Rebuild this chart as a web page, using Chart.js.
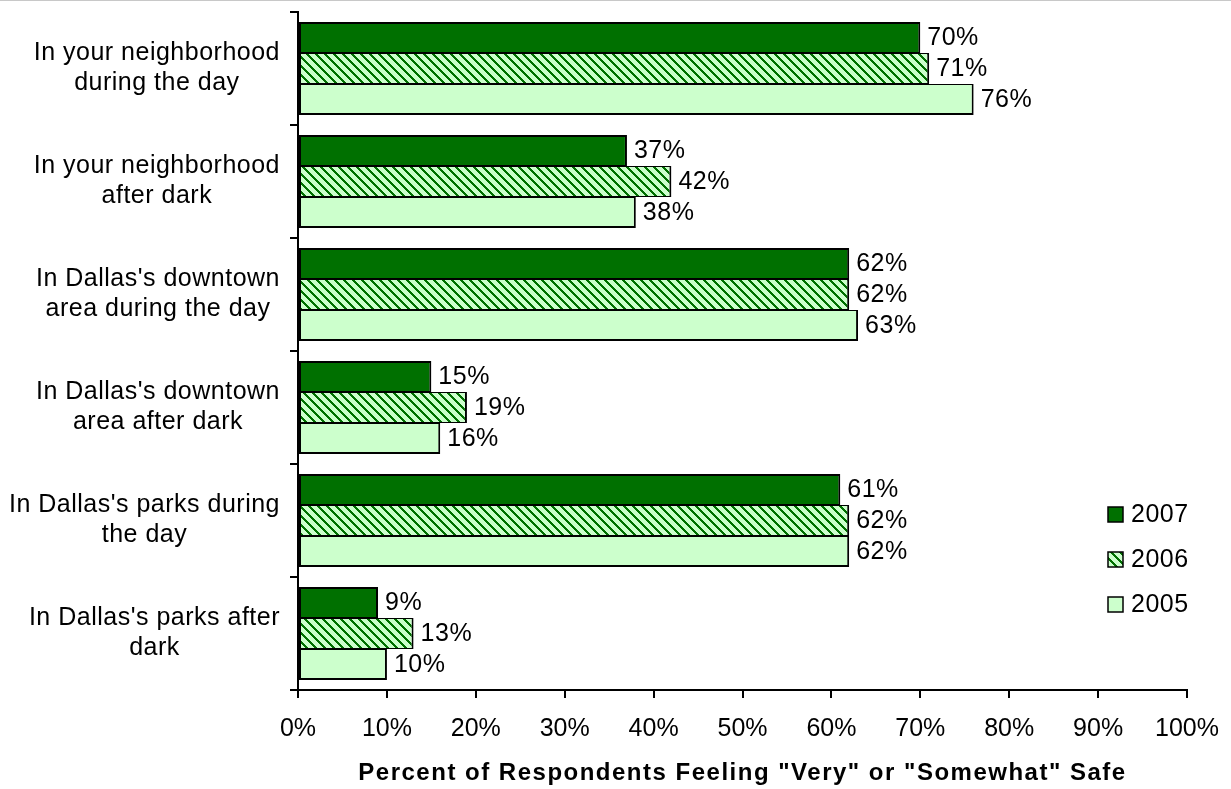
<!DOCTYPE html>
<html>
<head>
<meta charset="utf-8">
<title>Feelings of Safety in Dallas</title>
<script src="https://cdn.jsdelivr.net/npm/chart.js@4.4.1/dist/chart.umd.min.js"></script>
<style>
  html, body { margin: 0; padding: 0; background: #ffffff; }
  #wrap { width: 1231px; height: 789px; position: relative; }
  canvas { display: block; }
</style>
</head>
<body>
<div id="wrap"><canvas id="chart" width="1231" height="789"></canvas></div>
<script>
// Survey locations (each label split onto two lines)
const categories = [
  ["In your neighborhood", "during the day"],
  ["In your neighborhood", "after dark"],
  ["In Dallas's downtown", "area during the day"],
  ["In Dallas's downtown", "area after dark"],
  ["In Dallas's parks during", "the day"],
  ["In Dallas's parks after", "dark"]
];

// Percent feeling "very" or "somewhat" safe, by survey year
const years = ["2007", "2006", "2005"];
const values2007 = [70, 37, 62, 15, 61, 9];
const values2006 = [71, 42, 62, 19, 62, 13];
const values2005 = [76, 38, 63, 16, 62, 10];

// Axis ticks
const xTicks = [0, 10, 20, 30, 40, 50, 60, 70, 80, 90, 100];
const xTitle = 'Percent of Respondents Feeling "Very" or "Somewhat" Safe';

const FONT = '"Liberation Sans", Arial, Helvetica, sans-serif';
const LABEL_FONT = '25px ' + FONT;
const LABEL_SPACING = '0.5px';
const DARK = '#007000';
const LIGHT = '#ccffcc';

// Diagonal stripe fill for the 2006 bars
function makeStripes() {
  const P = 9, W = 3;
  const c = document.createElement('canvas');
  c.width = P; c.height = P;
  const g = c.getContext('2d');
  const img = g.createImageData(P, P);
  for (let y = 0; y < P; y++) {
    for (let x = 0; x < P; x++) {
      const d = ((x - y) % P + P) % P;
      const i = (y * P + x) * 4;
      const dark = d < W;
      img.data[i] = dark ? 0x00 : 0xcc;
      img.data[i + 1] = dark ? 0x70 : 0xff;
      img.data[i + 2] = dark ? 0x00 : 0xcc;
      img.data[i + 3] = 255;
    }
  }
  g.putImageData(img, 0, 0);
  return document.getElementById('chart').getContext('2d').createPattern(c, 'repeat');
}
const stripes = makeStripes();

// Thin grey rule along the top edge
const topRule = {
  id: 'topRule',
  beforeDraw(chart) {
    const ctx = chart.ctx;
    ctx.save();
    ctx.fillStyle = '#c8c8c8';
    ctx.fillRect(0, 0, chart.width, 1);
    ctx.restore();
  }
};

// Category labels: each block right-aligned, its lines centred within it
const categoryLabels = {
  id: 'categoryLabels',
  afterDraw(chart) {
    const ctx = chart.ctx;
    const yScale = chart.scales.y;
    const right = yScale.right - 18;
    const lh = 29.5;
    ctx.save();
    ctx.letterSpacing = LABEL_SPACING;
    ctx.font = LABEL_FONT;
    ctx.fillStyle = '#000';
    ctx.textAlign = 'center';
    ctx.textBaseline = 'middle';
    categories.forEach((lines, i) => {
      const cy = yScale.getPixelForValue(i) - 0.5;
      const w = Math.max(...lines.map(s => ctx.measureText(s).width));
      const cx = right - w / 2;
      const top = cy - (lines.length - 1) * lh / 2;
      lines.forEach((s, k) => ctx.fillText(s, cx, top + k * lh));
    });
    ctx.restore();
  }
};

// Bold axis title, centred under the plot
const axisTitle = {
  id: 'axisTitle',
  afterDraw(chart) {
    const ctx = chart.ctx;
    const area = chart.chartArea;
    ctx.save();
    ctx.letterSpacing = '1.5px';
    ctx.font = 'bold 24px ' + FONT;
    ctx.fillStyle = '#000';
    ctx.textAlign = 'center';
    ctx.textBaseline = 'middle';
    ctx.fillText(xTitle, (area.left + area.right) / 2, 773);
    ctx.restore();
  }
};

// Value labels just past the end of every bar
const valueLabels = {
  id: 'valueLabels',
  afterDatasetsDraw(chart) {
    const ctx = chart.ctx;
    ctx.save();
    ctx.letterSpacing = LABEL_SPACING;
    ctx.font = LABEL_FONT;
    ctx.fillStyle = '#000';
    ctx.textAlign = 'left';
    ctx.textBaseline = 'middle';
    chart.data.datasets.forEach((ds, di) => {
      chart.getDatasetMeta(di).data.forEach((bar, i) => {
        ctx.fillText(ds.data[i] + '%', bar.x + 7, bar.y + 1);
      });
    });
    ctx.restore();
  }
};

// Legend drawn inside the plot, near its lower right
const boxLegend = {
  id: 'boxLegend',
  afterDraw(chart) {
    const ctx = chart.ctx;
    const area = chart.chartArea;
    const x0 = area.right - 79;
    const ys = [514, 559, 604];
    ctx.save();
    ctx.letterSpacing = LABEL_SPACING;
    ctx.font = LABEL_FONT;
    ctx.textAlign = 'left';
    ctx.textBaseline = 'middle';
    chart.data.datasets.forEach((ds, i) => {
      const y = ys[i];
      ctx.fillStyle = ds.backgroundColor;
      ctx.fillRect(x0, y - 7, 15, 15);
      ctx.lineWidth = 1.5;
      ctx.strokeStyle = '#000';
      ctx.strokeRect(x0, y - 7, 15, 15);
      ctx.fillStyle = '#000';
      ctx.fillText(ds.label, x0 + 23, y + 1);
    });
    ctx.restore();
  }
};

const datasets = [
  { label: years[0], data: values2007, backgroundColor: DARK,
    borderWidth: { top: 2, bottom: 1, left: 2, right: 2 } },
  { label: years[1], data: values2006, backgroundColor: stripes,
    borderWidth: { top: 1, bottom: 1, left: 2, right: 2 } },
  { label: years[2], data: values2005, backgroundColor: LIGHT,
    borderWidth: { top: 1, bottom: 2, left: 2, right: 2 } }
].map(d => Object.assign(d, {
  borderColor: '#000',
  borderSkipped: false,
  categoryPercentage: 0.823,
  barPercentage: 1.0
}));

new Chart(document.getElementById('chart'), {
  type: 'bar',
  data: { labels: categories.map(l => l.join(' ')), datasets },
  options: {
    indexAxis: 'y',
    responsive: false,
    animation: false,
    events: [],
    layout: { padding: { top: 12, right: 44, bottom: 0, left: 0 } },
    plugins: { legend: { display: false }, tooltip: { enabled: false } },
    scales: {
      x: {
        type: 'linear',
        min: xTicks[0],
        max: xTicks[xTicks.length - 1],
        afterBuildTicks(scale) { scale.ticks = xTicks.map(v => ({ value: v })); },
        afterFit(scale) {
          scale.height = 99;
          scale.paddingLeft = 0;
          scale.paddingRight = 0;
        },
        ticks: {
          color: '#000',
          padding: 16,
          font: { family: FONT, size: 25 },
          maxRotation: 0,
          callback: v => v + '%'
        },
        grid: { drawOnChartArea: false, color: '#000', lineWidth: 2, tickLength: 8 },
        border: { display: true, color: '#000', width: 2 }
      },
      y: {
        type: 'category',
        offset: true,
        afterFit(scale) { scale.width = 298; },
        ticks: { display: false },
        grid: { offset: true, drawOnChartArea: false, color: '#000', lineWidth: 2, tickLength: 8 },
        border: { display: true, color: '#000', width: 2 }
      }
    }
  },
  plugins: [topRule, valueLabels, categoryLabels, axisTitle, boxLegend]
});
</script>
</body>
</html>
